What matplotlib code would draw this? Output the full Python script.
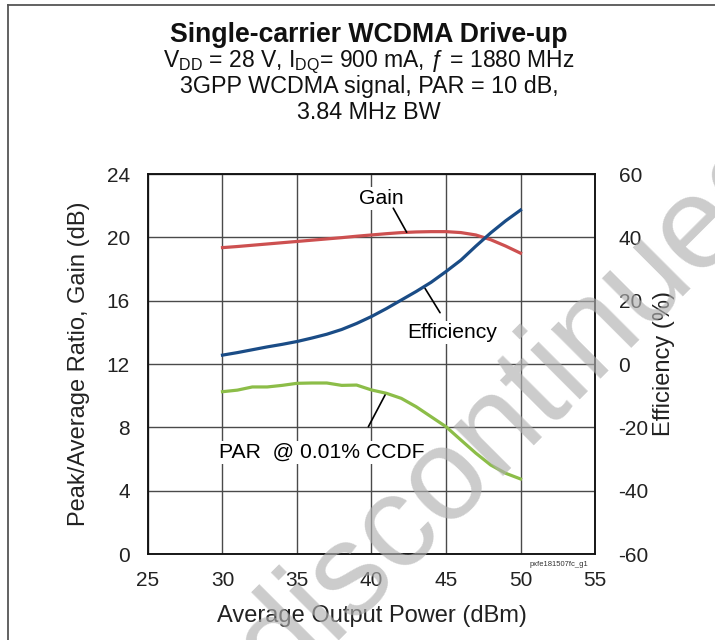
import numpy as np
import matplotlib
matplotlib.use("Agg")
import matplotlib.pyplot as plt
from matplotlib.lines import Line2D

plt.rcParams['font.family'] = ['Liberation Sans', 'DejaVu Sans']
plt.rcParams['mathtext.fontset'] = 'custom'
plt.rcParams['mathtext.rm'] = 'Liberation Sans'
plt.rcParams['axes.unicode_minus'] = False

# data
pout = [30, 31, 32, 33, 34, 35, 36, 37, 38, 39, 40,
        41, 42, 43, 44, 45, 46, 47, 48, 49, 50]
gain = [19.35, 19.42, 19.5, 19.58, 19.66, 19.74, 19.82, 19.9, 19.98, 20.07, 20.15,
        20.23, 20.3, 20.34, 20.36, 20.36, 20.3, 20.15, 19.85, 19.45, 19.0]
par = [10.25, 10.35, 10.55, 10.55, 10.65, 10.78, 10.8, 10.8, 10.65, 10.67, 10.36,
       10.15, 9.83, 9.3, 8.67, 8.04, 7.2, 6.37, 5.62, 5.1, 4.74]
eff = [2.8, 3.6, 4.5, 5.4, 6.2, 7.1, 8.2, 9.4, 10.9, 12.8, 15.0,
       17.5, 20.2, 22.9, 25.8, 29.2, 32.8, 37.2, 41.4, 45.2, 48.6]

xticks = [25, 30, 35, 40, 45, 50, 55]
yticks_left = [0, 4, 8, 12, 16, 20, 24]
yticks_right = [-60, -40, -20, 0, 20, 40, 60]

W, H = 715, 640
fig = plt.figure(figsize=(W / 100, H / 100), dpi=100)
ax = fig.add_axes([148 / W, 1 - 554 / H, (595 - 148) / W, (554 - 174) / H])
ax2 = ax.twinx()

ax.set_xlim(25, 55)
ax.set_ylim(0, 24)
ax2.set_ylim(-60, 60)
ax.set_xticks(xticks)
ax.set_yticks(yticks_left)
ax2.set_yticks(yticks_right)

ax.grid(True, color='#4a4a4a', lw=1.0)
ax.set_axisbelow(True)
ax.tick_params(length=0, labelsize=15, pad=13, colors='#222222')
ax.tick_params(axis='x', pad=12)
ax2.tick_params(length=0, labelsize=15, pad=17, colors='#222222')
for a in (ax, ax2):
    for s in a.spines.values():
        s.set_color('#111111')
        s.set_linewidth(1.1)

ax.plot(pout, gain, color='#cd5050', lw=2.3, zorder=3)
ax.plot(pout, par, color='#8cbd48', lw=2.3, zorder=3)
ax2.plot(pout, eff, color='#1a4c86', lw=2.3, zorder=3)

ax.set_xlabel('Average Output Power (dBm)', fontsize=17, color='#222222', labelpad=11)
ax.set_ylabel('Peak/Average Ratio, Gain (dB)', fontsize=17, color='#222222', labelpad=12)
ax2.set_ylabel('Efficiency (%)', fontsize=17, color='#222222', labelpad=3)

box = dict(facecolor='white', edgecolor='none', pad=1.5)
lead = dict(arrowstyle='-', color='black', lw=1.2, shrinkA=0, shrinkB=0)
ax.text(40.66, 22.1, 'Gain', fontsize=15.2, ha='center', va='baseline', bbox=box, zorder=4)
ax.annotate('', xy=(42.36, 20.32), xytext=(41.46, 21.84), arrowprops=lead, zorder=4)
ax.text(45.44, 13.63, 'Efficiency', fontsize=15.2, ha='center', va='baseline', bbox=box, zorder=4)
ax.annotate('', xy=(43.59, 16.78), xytext=(44.6, 15.24), arrowprops=lead, zorder=4)
ax.text(29.79, 6.05, 'PAR  @ 0.01% CCDF', fontsize=15.2, ha='left', va='baseline', bbox=box, zorder=4)
ax.annotate('', xy=(40.91, 10.04), xytext=(39.79, 8.04), arrowprops=lead, zorder=4)

fig.text(588 / W, 1 - 566 / H, 'pxfe181507fc_g1', fontsize=5.5, ha='right', va='baseline',
         color='#333333')

cx = 369 / W
fig.text(cx, 1 - 42 / H, 'Single-carrier WCDMA Drive-up', fontsize=19.2, fontweight='bold',
         ha='center', va='baseline', color='#111111')
fig.text(cx, 1 - 67 / H, r'V$_{\mathrm{DD}}$ = 28 V, I$_{\mathrm{DQ}}$= 900 mA, ƒ = 1880 MHz',
         fontsize=16.5, ha='center', va='baseline', color='#111111')
fig.text(cx, 1 - 93 / H, '3GPP WCDMA signal, PAR = 10 dB,', fontsize=16.8,
         ha='center', va='baseline', color='#111111')
fig.text(cx, 1 - 119 / H, '3.84 MHz BW', fontsize=16.8,
         ha='center', va='baseline', color='#111111')

# page frame
fig.add_artist(Line2D([8 / W, 1], [1 - 5 / H, 1 - 5 / H], color='#555555', lw=1.3))
fig.add_artist(Line2D([8 / W, 8 / W], [0, 1 - 5 / H], color='#555555', lw=1.3))

# watermark
fig.text(540 / W, 1 - 434 / H, 'discontinued', fontsize=94, rotation=45,
         rotation_mode='anchor', ha='center', va='baseline', color='#b0b0b0',
         alpha=0.65, zorder=10)

fig.savefig('out.png', dpi=100)
